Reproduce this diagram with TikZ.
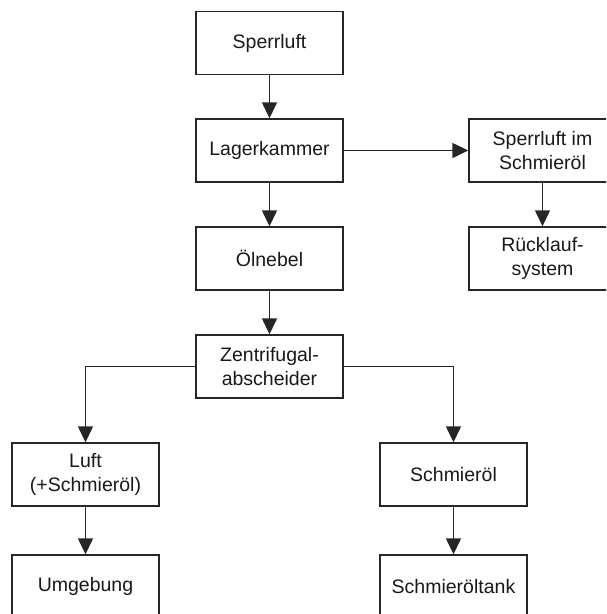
\documentclass[tikz,border=0pt]{standalone}
\usepackage{fontspec}
\setmainfont{Liberation Sans}
\usetikzlibrary{arrows.meta}
\begin{document}
\begin{tikzpicture}[x=1pt,y=-1pt,
  box/.style={draw=black!85, line width=1.4pt, fill=white, minimum width=147pt, minimum height=63pt, inner sep=0pt, align=center, font=\fontsize{19.5}{24}\selectfont, text=black!90},
  conn/.style={draw=black!85, line width=1.4pt},
  arr/.style={conn, -{Triangle[width=15pt,length=16pt]}}]
\useasboundingbox (0,0) rectangle (606,614);
\clip (0,0) rectangle (606,614);
\node[box] (sperr) at (269.5,43) {Sperrluft};
\node[box] (lager) at (269.5,150.5) {Lagerkammer};
\node[box] (oel) at (269.5,258.5) {Ölnebel};
\node[box] (zent) at (269.5,366.5) {Zentrifugal-\\abscheider};
\node[box] (sims) at (542.5,150.5) {Sperrluft im\\Schmieröl};
\node[box] (rueck) at (542.5,258.5) {Rücklauf-\\system};
\node[box] (luft) at (85.5,474.5) {Luft\\(+Schmieröl)};
\node[box] (schm) at (453.5,474.5) {Schmieröl};
\node[box] (umg) at (85.5,586.5) {Umgebung};
\node[box] (tank) at (453.5,586.5) {Schmieröltank};
\draw[arr] (sperr) -- (lager);
\draw[arr] (lager) -- (oel);
\draw[arr] (oel) -- (zent);
\draw[arr] (lager) -- (sims);
\draw[arr] (sims) -- (rueck);
\draw[arr] (zent.west) -| (luft.north);
\draw[arr] (zent.east) -| (schm.north);
\draw[arr] (luft) -- (umg);
\draw[arr] (schm) -- (tank);
\end{tikzpicture}
\end{document}
